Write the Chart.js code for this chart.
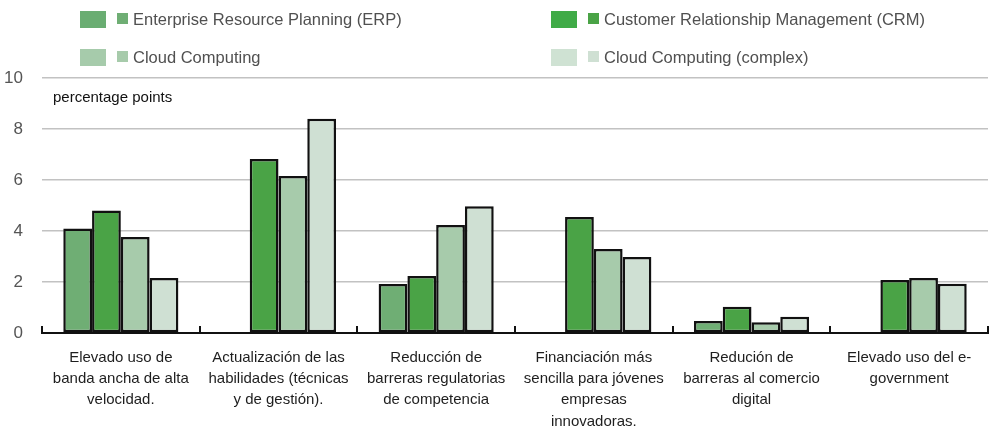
<!DOCTYPE html>
<html>
<head>
<meta charset="utf-8">
<script src="https://cdn.jsdelivr.net/npm/chart.js@4"></script>
<style>
  body { margin: 0; background: #fff; }
  #wrap { position: relative; width: 989px; height: 427px; font-family: "Liberation Sans", Arial, sans-serif; }
  #chart { position: absolute; left: 0; top: 0; }
  .leg { position: absolute; height: 20px; display: flex; align-items: center; font-size: 16.5px; color: #505050; white-space: nowrap; }
  .leg .big { width: 26px; height: 17px; margin-right: 11px; }
  .leg .small { width: 11px; height: 11px; margin-right: 5px; margin-top: -2px; }
</style>
</head>
<body>
<div id="wrap">
  <canvas id="chart" width="989" height="427"></canvas>
  <div id="legend"></div>
</div>
<script>
// categorías (etiquetas del eje x, en varias líneas)
const categories = [
    ['Elevado uso de', 'banda ancha de alta', 'velocidad.'],
    ['Actualización de las', 'habilidades (técnicas', 'y de gestión).'],
    ['Reducción de', 'barreras regulatorias', 'de competencia'],
    ['Financiación más', 'sencilla para jóvenes', 'empresas', 'innovadoras.'],
    ['Redución de', 'barreras al comercio', 'digital'],
    ['Elevado uso del e-', 'government']
];

const seriesNames = [
    'Enterprise Resource Planning (ERP)',
    'Customer Relationship Management (CRM)',
    'Cloud Computing',
    'Cloud Computing (complex)'
];

// valores en puntos porcentuales
const erpValues = [4.1, null, 1.92, null, 0.47, null];
const crmValues = [4.8, 6.82, 2.24, 4.55, 1.03, 2.08];
const cloudValues = [3.76, 6.16, 4.24, 3.29, 0.42, 2.16];
const cloudComplexValues = [2.16, 8.4, 4.97, 2.98, 0.64, 1.93];

const barColors = ['#6fae74', '#4aa346', '#a7cbab', '#cfe0d3'];
const legendBigColors = ['#6aad72', '#40ab47', '#a6cbab', '#cfe2d3'];

const yTicks = [0, 2, 4, 6, 8, 10];

// legend HTML (dos columnas, dos filas)
const legendPos = [
    { left: 80, top: 9 }, { left: 551, top: 9 },
    { left: 80, top: 47 }, { left: 551, top: 47 }
];
const legendEl = document.getElementById('legend');
seriesNames.forEach((name, i) => {
    const d = document.createElement('div');
    d.className = 'leg';
    d.style.left = legendPos[i].left + 'px';
    d.style.top = legendPos[i].top + 'px';
    d.innerHTML = '<span class="big" style="background:' + legendBigColors[i] + '"></span>' +
        '<span class="small" style="background:' + barColors[i] + '"></span>' +
        '<span>' + name + '</span>';
    legendEl.appendChild(d);
});

// marcas del eje x entre categorías (hacia arriba) + texto de unidad
const extrasPlugin = {
    id: 'extras',
    afterDraw(chart) {
        const ctx = chart.ctx;
        const xs = chart.scales.x;
        const area = chart.chartArea;
        const n = categories.length;
        const step = (area.right - area.left) / n;
        ctx.save();
        ctx.strokeStyle = '#111';
        ctx.lineWidth = 2;
        for (let i = 0; i <= n; i++) {
            const x = Math.round(xs.getPixelForValue(0) - step / 2 + i * step);
            ctx.beginPath();
            ctx.moveTo(x, area.bottom);
            ctx.lineTo(x, area.bottom - 7);
            ctx.stroke();
        }
        ctx.fillStyle = '#111';
        ctx.font = '15px "Liberation Sans", Arial, sans-serif';
        ctx.textBaseline = 'middle';
        ctx.fillText('percentage points', area.left + 11, 98);
        ctx.restore();
    }
};

const datasets = [erpValues, crmValues, cloudValues, cloudComplexValues].map((vals, i) => ({
    label: seriesNames[i],
    data: vals,
    backgroundColor: barColors[i],
    borderColor: '#111',
    borderWidth: 2.5,
    borderSkipped: false,
    barPercentage: 1,
    categoryPercentage: 0.73
}));

new Chart(document.getElementById('chart').getContext('2d'), {
    type: 'bar',
    data: { labels: categories, datasets },
    options: {
        responsive: false,
        animation: false,
        layout: { padding: { top: 78, right: 1, left: 0, bottom: 0 } },
        plugins: {
            legend: { display: false },
            tooltip: { enabled: false }
        },
        scales: {
            x: {
                afterFit: (s) => { s.height = 94; },
                grid: { display: false, drawTicks: false },
                border: { display: true, color: '#111', width: 2 },
                ticks: {
                    padding: 14,
                    maxRotation: 0,
                    autoSkip: false,
                    color: '#1e1e1e',
                    font: { family: '"Liberation Sans", Arial, sans-serif', size: 15, lineHeight: 1.42 }
                }
            },
            y: {
                min: 0,
                max: 10,
                afterFit: (s) => { s.width = 42; },
                afterBuildTicks: (s) => { s.ticks = yTicks.map(v => ({ value: v })); },
                grid: {
                    drawTicks: false,
                    lineWidth: 1.5,
                    color: (c) => c.tick && c.tick.value === 0 ? 'rgba(0,0,0,0)' : '#c2c2c2'
                },
                border: { display: false },
                ticks: {
                    padding: 19,
                    color: '#555',
                    font: { family: '"Liberation Sans", Arial, sans-serif', size: 17 }
                }
            }
        }
    },
    plugins: [extrasPlugin]
});
</script>
</body>
</html>
